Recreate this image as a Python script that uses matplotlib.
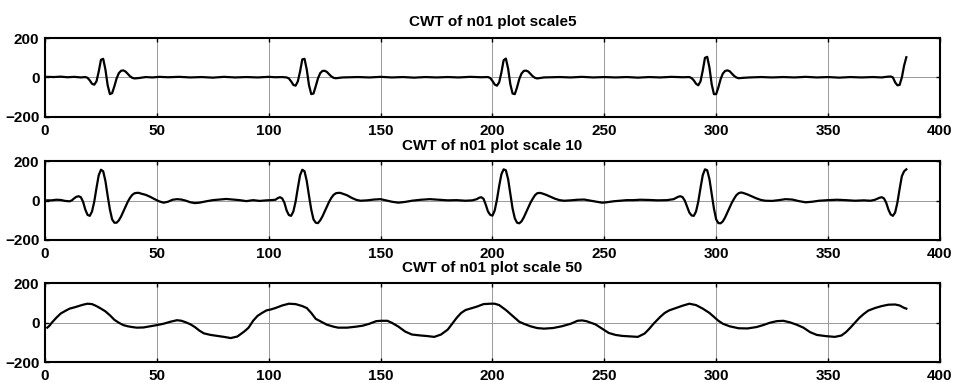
import matplotlib
matplotlib.use('Agg')
import matplotlib.pyplot as plt

plt.rcParams['font.family'] = ['Liberation Sans', 'DejaVu Sans']
plt.rcParams['font.weight'] = 'bold'

# scale 5
x5 = [1, 4, 7, 10, 13, 16, 18, 19, 20, 21, 22, 23, 24, 25, 26, 27, 28, 29, 30, 31, 32, 33, 34, 35, 36, 37, 38, 39, 40, 42,
      45, 48, 51, 55, 60, 65, 70, 75, 80, 85, 90, 95, 100, 103, 106, 108, 109, 110, 111, 112, 113, 114, 115, 116, 117, 118,
      119, 120, 121, 122, 123, 124, 125, 126, 127, 128, 129, 130, 133, 140, 145, 150, 155, 160, 165, 170, 175, 180, 185, 190,
      195, 198, 199, 200, 201, 202, 203, 204, 205, 206, 207, 208, 209, 210, 211, 212, 213, 214, 215, 216, 217, 218, 219, 220,
      223, 230, 235, 240, 245, 250, 255, 260, 265, 270, 275, 280, 285, 288, 289, 290, 291, 292, 293, 294, 295, 296, 297, 298,
      299, 300, 301, 302, 303, 304, 305, 306, 307, 308, 309, 310, 312, 315, 320, 325, 330, 335, 340, 345, 350, 355, 360, 365,
      370, 374, 376, 378, 379, 380, 381, 382, 383, 384, 385]
y5 = [3, 2, 4, 1, 3, 0, 2, -2, -15, -32, -37, -20, 30, 90, 95, 40, -40, -85, -80, -45, -5, 22, 34, 36, 30, 18, 6, -2, -5, -3,
      2, 0, 3, 1, 3, 0, 2, -1, 3, 0, 2, 0, 3, 1, 2, 0, -5, -20, -38, -42, -20, 30, 92, 95, 40, -40,
      -85, -82, -45, -5, 22, 33, 34, 28, 16, 5, -2, -4, 0, 2, 0, 3, 0, 2, -1, 2, 0, 2, 0, 3,
      1, 2, -3, -18, -36, -42, -25, 25, 88, 96, 45, -35, -82, -85, -50, -8, 20, 33, 35, 30, 18, 6, -2, -5,
      0, 2, 0, 3, 0, 2, 0, 2, -1, 2, 0, 3, 1, 2, -3, -15, -32, -40, -20, 35, 100, 105, 50, -35,
      -85, -85, -50, -8, 20, 33, 36, 32, 20, 8, 0, -4, -2, 0, 2, 0, 2, 0, 3, 0, 2, -1, 2, 0,
      2, 0, 3, 5, 0, -25, -40, -38, 0, 60, 103]

# scale 10
x10 = [1, 3, 5, 7, 9, 11, 12, 13, 14, 15, 16, 17, 18, 19, 20, 21, 22, 23, 24, 25, 26, 27, 28, 29, 30, 31, 32, 33, 34, 35,
       36, 37, 38, 39, 40, 41, 42, 43, 45, 47, 49, 51, 53, 55, 57, 59, 61, 63, 65, 67, 69, 72, 75, 78, 81, 84, 87, 90, 93, 96,
       99, 101, 103, 104, 105, 106, 107, 108, 109, 110, 111, 112, 113, 114, 115, 116, 117, 118, 119, 120, 121, 122, 123, 124,
       125, 126, 127, 128, 129, 130, 131, 132, 133, 135, 137, 139, 141, 144, 147, 150, 152, 155, 158, 161, 164, 168, 172, 176,
       180, 184, 188, 191, 193, 194, 195, 196, 197, 198, 199, 200, 201, 202, 203, 204, 205, 206, 207, 208, 209, 210, 211, 212,
       213, 214, 215, 216, 217, 218, 219, 220, 221, 222, 224, 226, 228, 230, 232, 235, 238, 241, 244, 247, 249, 251, 254, 257,
       260, 263, 266, 270, 274, 278, 281, 283, 284, 285, 286, 287, 288, 289, 290, 291, 292, 293, 294, 295, 296, 297, 298, 299,
       300, 301, 302, 303, 304, 305, 306, 307, 308, 309, 310, 311, 312, 314, 316, 318, 320, 322, 325, 328, 331, 334, 337, 340,
       343, 346, 350, 354, 358, 362, 366, 369, 371, 373, 374, 375, 376, 377, 378, 379, 380, 381, 382, 383, 384, 385]
y10 = [2, 2, 5, 4, -1, -3, 2, 12, 20, 23, 18, -5, -45, -72, -77, -55, -5, 65, 130, 158, 150, 100, 25, -45, -95, -112, -112, -100, -80, -55,
       -30, -5, 15, 30, 38, 40, 40, 36, 30, 20, 8, -3, -10, -5, 5, 8, 6, 0, -8, -12, -10, -3, 3, 6, 9, 6, 3, -2, 3, -1,
       2, 3, 5, 13, 18, 12, -10, -50, -73, -77, -55, -5, 65, 130, 158, 150, 100, 25, -45, -95, -112, -114, -100, -80,
       -55, -30, -5, 15, 30, 38, 40, 40, 36, 28, 15, 5, 0, 2, 6, 8, 3, -5, -10, -6, 0, 5, 8, 5,
       2, 3, 0, 2, 8, 15, 18, 10, -20, -55, -72, -76, -50, 5, 75, 135, 160, 155, 110, 35, -40, -90, -112, -115,
       -105, -85, -60, -35, -10, 10, 28, 38, 40, 38, 30, 20, 10, 3, 0, 2, 5, 6, 0, -6, -10, -8, -3, 0,
       3, 3, 5, 4, 2, 3, 8, 20, 23, 18, 0, -30, -60, -75, -77, -55, -5, 65, 130, 160, 155, 110, 35, -40,
       -95, -114, -115, -105, -85, -60, -35, -10, 10, 28, 38, 42, 40, 32, 22, 12, 4, 0, -1, 3, 8, 6, -2, -8,
       -5, 0, 3, 5, 3, 0, 2, 0, 5, 15, 18, 12, -10, -45, -70, -77, -60, -10, 60, 125, 150, 160]

# scale 50
x50 = [1, 2, 3, 5, 7, 9, 11, 13, 15, 17, 19, 21, 23, 25, 27, 29, 31, 33, 35, 37, 39, 41, 44, 47, 50, 53, 56, 59, 61, 63,
       65, 67, 69, 71, 74, 77, 80, 83, 86, 89, 91, 93, 95, 97, 99, 101, 103, 106, 109, 112, 115, 117, 119, 121, 123, 126, 129,
       131, 135, 139, 142, 145, 148, 150, 153, 155, 158, 161, 164, 168, 171, 174, 177, 180, 182, 184, 186, 188, 190, 193, 196,
       199, 201, 203, 206, 208, 210, 212, 214, 217, 220, 223, 227, 231, 235, 238, 240, 242, 244, 246, 249, 252, 255, 258, 262,
       265, 268, 270, 272, 275, 277, 279, 282, 285, 288, 291, 294, 297, 299, 301, 303, 306, 310, 314, 318, 321, 324, 327, 330,
       333, 336, 339, 342, 345, 349, 353, 356, 358, 360, 362, 364, 366, 368, 371, 374, 377, 380, 382, 384, 385]
y50 = [-25, -15, 0, 25, 47, 60, 72, 78, 85, 92, 97, 95, 85, 72, 58, 38, 15, 0, -12, -18, -22, -25, -24, -18, -12, -5, 5, 13, 10, 2,
       -8, -22, -40, -54, -62, -67, -72, -78, -70, -45, -25, 10, 35, 50, 63, 68, 75, 88, 97, 95, 85, 75, 50, 20, 8, -10, -20,
       -25, -25, -20, -15, -5, 8, 10, 10, 0, -20, -45, -60, -65, -68, -72, -60, -35, -5, 25, 50, 65, 72, 82, 95,
       97, 97, 90, 65, 45, 25, 5, -5, -18, -27, -30, -27, -18, -5, 10, 12, 8, 0, -8, -30, -52, -62, -67, -70,
       -72, -55, -32, -5, 30, 50, 63, 75, 87, 97, 90, 72, 50, 30, 10, -5, -18, -28, -29, -22, -12, 0, 8, 10,
       2, -10, -25, -48, -62, -68, -72, -65, -48, -25, 0, 25, 45, 62, 75, 85, 92, 93, 88, 76, 72]

titles = ['CWT of n01 plot scale5', 'CWT of n01 plot scale 10', 'CWT of n01 plot scale 50']
xticks = [0, 50, 100, 150, 200, 250, 300, 350, 400]
yticks = [-200, 0, 200]

fig = plt.figure(figsize=(9.54, 3.83), dpi=100)
bottoms = [0.6953, 0.3734, 0.0548]
series = [(x5, y5), (x10, y10), (x50, y50)]

for b, (xs, ys), t in zip(bottoms, series, titles):
    ax = fig.add_axes([0.0472, b, 0.938, 0.205])
    ax.plot(xs, ys, color='black', linewidth=1.6)
    ax.set_xlim(0, 400)
    ax.set_ylim(-200, 200)
    ax.set_xticks(xticks)
    ax.set_yticks(yticks)
    ax.grid(True, color='#9a9a9a', linewidth=0.7)
    ax.tick_params(direction='in', top=True, right=True, length=3, width=1,
                   labelsize=11, pad=4)
    ax.tick_params(axis='x', pad=5)
    for lab in ax.get_xticklabels() + ax.get_yticklabels():
        lab.set_fontweight('bold')
    for s in ax.spines.values():
        s.set_linewidth(1.5)
    ax.set_title(t, fontsize=11, fontweight='bold', pad=8.5)

plt.savefig('out.png', dpi=100)
